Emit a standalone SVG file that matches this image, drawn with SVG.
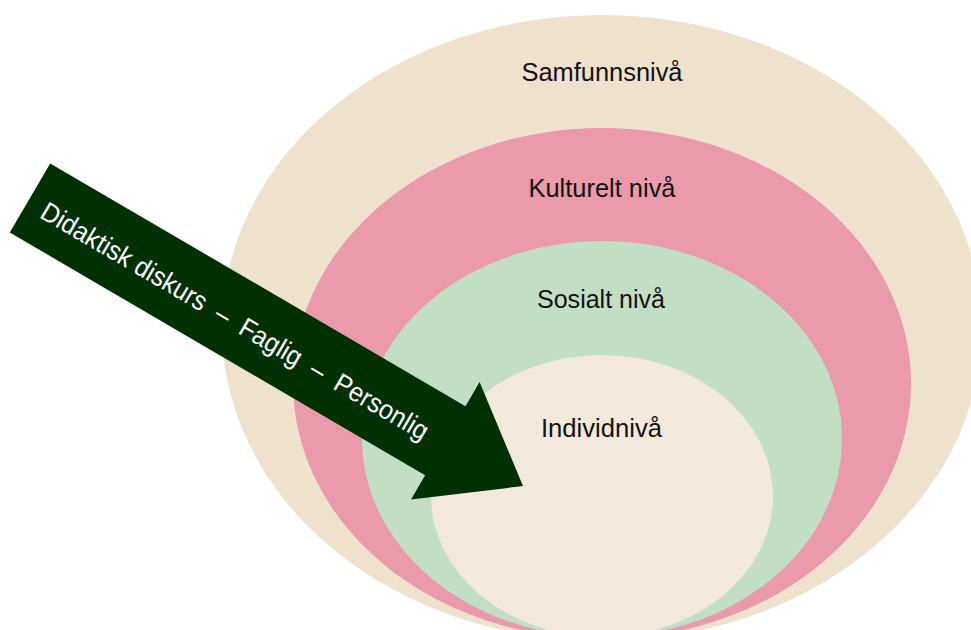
<svg xmlns="http://www.w3.org/2000/svg" width="971" height="630" viewBox="0 0 971 630">
<style>
.lbl{font-family:"Liberation Sans",Arial,sans-serif;font-size:26px;fill:#111;text-anchor:middle}
.arr{font-family:"Liberation Sans",Arial,sans-serif;font-size:27px;fill:#fff}
</style>
<rect width="971" height="630" fill="#fff"/>
<g id="samfunn"><ellipse cx="602" cy="328" rx="380" ry="313" fill="#EFE2CC"/><text class="lbl" x="602" y="81" textLength="161" lengthAdjust="spacingAndGlyphs">Samfunnsnivå</text></g>
<g id="kulturelt"><ellipse cx="602" cy="383.5" rx="309" ry="255.5" fill="#EA9AAA"/><text class="lbl" x="602" y="197" textLength="147" lengthAdjust="spacingAndGlyphs">Kulturelt nivå</text></g>
<g id="sosialt"><ellipse cx="602" cy="439" rx="240" ry="198" fill="#C2DFC4"/><text class="lbl" x="601" y="308" textLength="128" lengthAdjust="spacingAndGlyphs">Sosialt nivå</text></g>
<g id="individ"><ellipse cx="602" cy="496" rx="171" ry="141" fill="#F3E9DB"/><text class="lbl" x="601.5" y="437" textLength="121" lengthAdjust="spacingAndGlyphs">Individnivå</text></g>
<g id="connectors">
<g id="arrow" transform="translate(30,198) rotate(30.3)">
<polygon points="0,-40 481,-40 481,-68 571,0 481,68 481,40 0,40" fill="#013003"/>
<text class="arr" x="17" y="12" xml:space="preserve" textLength="444" lengthAdjust="spacingAndGlyphs">Didaktisk diskurs  –  Faglig  –  Personlig</text>
</g>
</g>
</svg>
